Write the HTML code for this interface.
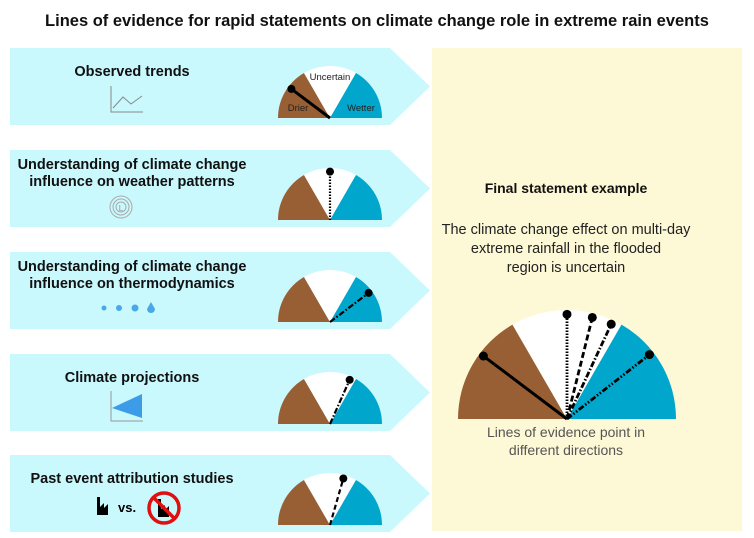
<!DOCTYPE html>
<html><head><meta charset="utf-8"><style>
body{margin:0;background:#fff;width:754px;height:533px;overflow:hidden;font-family:"Liberation Sans",sans-serif}
</style></head><body>
<svg width="754" height="533" id="svg" font-family="Liberation Sans, sans-serif">
<text x="377" y="26" text-anchor="middle" font-size="16.5" font-weight="bold" fill="#111">Lines of evidence for rapid statements on climate change role in extreme rain events</text>
<rect x="432" y="48" width="310" height="483" fill="#fdf8d6"/>
<g id="banners"></g>
<text x="566" y="193" text-anchor="middle" font-size="14" font-weight="bold" fill="#111">Final statement example</text>
<text text-anchor="middle" font-size="14.5" fill="#222"><tspan x="566" y="234">The climate change effect on multi-day</tspan><tspan x="566" y="253">extreme rainfall in the flooded</tspan><tspan x="566" y="272">region is uncertain</tspan></text>
<g id="gauges"></g>
<text text-anchor="middle" font-size="14" fill="#555"><tspan x="566" y="437">Lines of evidence point in</tspan><tspan x="566" y="455">different directions</tspan></text>
<!-- icons -->
<g stroke="#888" fill="none" stroke-width="1"><polyline points="111,86 111,112 143,112"/><polyline points="113,108 123,97 131,104 142,96"/></g>
<g stroke="#aaa" fill="none"><circle cx="121" cy="207" r="11"/><circle cx="121" cy="207" r="8"/><circle cx="121" cy="207" r="5"/><text x="121" y="211" font-size="8" text-anchor="middle" fill="#999" stroke="none">L</text></g>
<g fill="#4aa8e8"><circle cx="104" cy="308" r="2.5"/><circle cx="119" cy="308" r="3"/><circle cx="135" cy="308" r="3.5"/><path d="M151 302 L155 309 A4 4 0 1 1 147 309 Z"/></g>
<g><polyline points="111,391 111,421 143,421" stroke="#999" fill="none"/><polygon points="112,408 142,394 142,418" fill="#3c9ce8"/></g>
<g><path d="M97 515 V497 H100 V507 L104 503 V508 L108 504 V515 Z" fill="#000"/><text x="118" y="512" font-size="13" font-weight="bold">vs.</text><path d="M158 517 V499 H161 V509 L165 505 V510 L169 506 V517 Z" fill="#000"/><circle cx="164" cy="508" r="15" fill="none" stroke="#e01010" stroke-width="3.5"/><line x1="154" y1="498" x2="174" y2="518" stroke="#e01010" stroke-width="3.5"/></g>
</svg>
<script>
const bannerLabels=[["Observed trends"],["Understanding of climate change","influence on weather patterns"],["Understanding of climate change","influence on thermodynamics"],["Climate projections"],["Past event attribution studies"]];
const bannerTops=[48,150,252,354,455];
const smallNeedleAngles=[143,90,37,66,74];
const smallDash=["","1.5,1.5","6,2,1.5,2","6,2,1.5,2","5,3"];
const bigNeedleAngles=[143,90,76,65,38];
const bigDash=["","1.5,1.5","6,3","6,2,1.5,2","6,2,1.5,2,1.5,2"];
const NS="http://www.w3.org/2000/svg";
function mk(t,a,p){const e=document.createElementNS(NS,t);for(const k in a)e.setAttribute(k,a[k]);p.appendChild(e);return e;}
const bg=document.getElementById('banners');
bannerTops.forEach((y,i)=>{
 const h=77;
 const p=mk('polygon',{points:`10,${y} 390,${y} 430,${y+h/2} 390,${y+h} 10,${y+h}`,fill:'#c9f8fd'},bg);
 
 
 const lines=bannerLabels[i];
 const t=mk('text',{'text-anchor':'middle','font-size':'14.5','font-weight':'bold',fill:'#111'},bg);
 
 
 const y0=lines.length==1?y+28:y+19;
 lines.forEach((l,j)=>{const s=mk('tspan',{x:132,y:y0+j*17},t);s.textContent=l;});
});
const gg=document.getElementById('gauges');
function pt(cx,cy,r,a){const rad=a*Math.PI/180;return [cx+r*Math.cos(rad),cy-r*Math.sin(rad)];}
function sector(cx,cy,r,a1,a2,fill,name){
 const [x1,y1]=pt(cx,cy,r,a1),[x2,y2]=pt(cx,cy,r,a2);
 const s=mk('path',{d:`M${cx},${cy} L${x1},${y1} A${r},${r} 0 0 1 ${x2},${y2} Z`,fill},gg);
 
 
}
function gauge(cx,cy,r,ang,dash,sw,dot){
 sector(cx,cy,r,180,120,'#985f35','drier-sector');
 sector(cx,cy,r,120,60,'#ffffff','uncertain-sector');
 sector(cx,cy,r,60,0,'#00a6cc','wetter-sector');
}
function needle(cx,cy,len,a,dash,sw,dot){
 const [x,y]=pt(cx,cy,len,a);
 const l=mk('line',{x1:cx,y1:cy,x2:x,y2:y,stroke:'#000','stroke-width':sw,'stroke-dasharray':dash},gg);
 
 
 const c=mk('circle',{cx:x,cy:y,r:dot,fill:'#000'},gg);
 
 
}
bannerTops.forEach((y,i)=>{
 const cx=330,cy=y+70,r=52;
 gauge(cx,cy,r);
 needle(cx,cy,r*0.93,smallNeedleAngles[i],smallDash[i],i==0?3:2.2,4);
});
mk('text',{x:330,y:80,'font-size':'9.5','text-anchor':'middle',fill:'#222'},gg).textContent='Uncertain';
mk('text',{x:298,y:111,'font-size':'9.5','text-anchor':'middle',fill:'#222'},gg).textContent='Drier';
mk('text',{x:361,y:111,'font-size':'9.5','text-anchor':'middle',fill:'#222'},gg).textContent='Wetter';
const bcx=567,bcy=419,br=109;
gauge(bcx,bcy,br);
bigNeedleAngles.forEach((a,i)=>needle(bcx,bcy,br*0.96,a,bigDash[i],i==0?3:2.8,4.5));
</script>
</body></html>
